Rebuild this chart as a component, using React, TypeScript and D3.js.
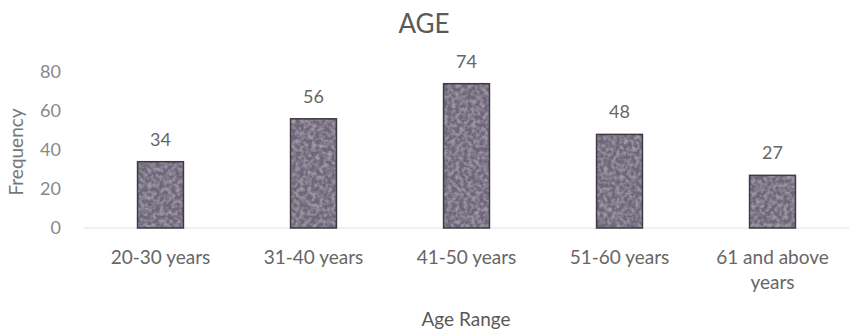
import { useEffect, useRef } from "react";
import * as d3 from "d3";

const categories = ["20-30 years", "31-40 years", "41-50 years", "51-60 years", "61 and above years"];
const frequency = [34, 56, 74, 48, 27];
const yTicks = [0, 20, 40, 60, 80];

const FONT = "Lato, 'Open Sans', sans-serif";

export default function App() {
  const svgRef = useRef<SVGSVGElement>(null);

  useEffect(() => {
    const width = 865;
    const height = 331;
    const svg = d3.select(svgRef.current).attr("width", width).attr("height", height);
    svg.selectAll("*").remove();

    const x = d3.scaleBand().domain(categories).range([84, 849]).paddingInner(0.7).paddingOuter(0.35);
    const y = d3.scaleLinear().domain([0, 80]).range([228, 72]);

    // soft grain for the bars
    const defs = svg.append("defs");
    const filt = defs.append("filter").attr("id", "grain").attr("x", 0).attr("y", 0).attr("width", 1).attr("height", 1);
    filt.append("feTurbulence").attr("type", "fractalNoise").attr("baseFrequency", 0.25).attr("numOctaves", 2).attr("seed", 3).attr("result", "noise");
    filt.append("feColorMatrix").attr("in", "noise").attr("type", "matrix")
      .attr("values", "0 0 0 0 0.55  0 0 0 0 0.52  0 0 0 0 0.58  0 0 0 -1.2 0.75").attr("result", "spots");
    filt.append("feComposite").attr("in", "spots").attr("in2", "SourceGraphic").attr("operator", "atop");

    // title
    svg.append("text").attr("x", 424).attr("y", 33).attr("text-anchor", "middle")
      .style("font-family", FONT).style("font-size", "26px").attr("fill", "#5a5a5a").text("AGE");

    // baseline
    svg.append("line").attr("x1", 84).attr("x2", 849).attr("y1", y(0)).attr("y2", y(0))
      .attr("stroke", "#e2e2e2").attr("stroke-width", 1);

    // y axis ticks
    svg.append("g").selectAll("text").data(yTicks).join("text")
      .attr("x", 61).attr("y", (d) => y(d)).attr("dy", "0.35em").attr("text-anchor", "end")
      .style("font-family", FONT).style("font-size", "18px").attr("fill", "#888")
      .text((d) => d);

    // bars
    const bars = svg.append("g");
    bars.selectAll("rect.fill").data(frequency).join("rect")
      .attr("class", "fill")
      .attr("x", (d, i) => x(categories[i])!)
      .attr("y", (d) => y(d))
      .attr("width", x.bandwidth())
      .attr("height", (d) => y(0) - y(d))
      .attr("fill", "#6e6679")
      .attr("filter", "url(#grain)");
    bars.selectAll("rect.edge").data(frequency).join("rect")
      .attr("class", "edge")
      .attr("x", (d, i) => x(categories[i])!)
      .attr("y", (d) => y(d))
      .attr("width", x.bandwidth())
      .attr("height", (d) => y(0) - y(d))
      .attr("fill", "none")
      .attr("stroke", "#3e3944")
      .attr("stroke-width", 1.5);

    // value labels
    svg.append("g").selectAll("text").data(frequency).join("text")
      .attr("x", (d, i) => x(categories[i])! + x.bandwidth() / 2)
      .attr("y", (d) => y(d) - 16)
      .attr("text-anchor", "middle")
      .style("font-family", FONT).style("font-size", "18px").attr("fill", "#666")
      .text((d) => d);

    // category labels, wrapped
    const catText = svg.append("g").selectAll("text").data(categories).join("text")
      .attr("x", (d) => x(d)! + x.bandwidth() / 2)
      .attr("y", 264)
      .attr("text-anchor", "middle")
      .style("font-family", FONT).style("font-size", "19px").attr("fill", "#666");
    catText.each(function (d) {
      const t = d3.select(this);
      const lines = d.length > 12 ? ["61 and above", "years"] : [d];
      lines.forEach((ln, k) => {
        t.append("tspan").attr("x", x(d)! + x.bandwidth() / 2).attr("dy", k === 0 ? 0 : 25).text(ln);
      });
    });

    // axis titles
    svg.append("text").attr("x", 466).attr("y", 326).attr("text-anchor", "middle")
      .style("font-family", FONT).style("font-size", "19px").attr("fill", "#5a5a5a").text("Age Range");
    svg.append("text").attr("transform", "translate(23,152) rotate(-90)").attr("text-anchor", "middle")
      .style("font-family", FONT).style("font-size", "19px").attr("fill", "#777").text("Frequency");
  }, []);

  return (
    <div style={{ position: "absolute", left: 0, top: 0 }}>
      <svg ref={svgRef}></svg>
    </div>
  );
}
